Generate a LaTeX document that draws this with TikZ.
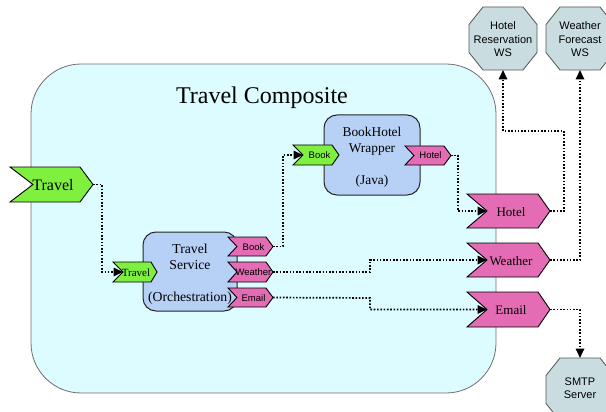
\documentclass[tikz,border=0pt]{standalone}
\usepackage{fontspec}
\setmainfont{Liberation Serif}
\setsansfont{Liberation Sans}
\usetikzlibrary{arrows.meta}

\definecolor{compfill}{HTML}{DCFCFF}
\definecolor{compline}{HTML}{6E6E6E}
\definecolor{boxfill}{HTML}{B6D0F6}
\definecolor{chevgreen}{HTML}{80F040}
\definecolor{chevpink}{HTML}{E46CB4}
\definecolor{octfill}{HTML}{C9DDE1}
\definecolor{octline}{HTML}{555555}

% chevron: name, left, right, top, bottom, notch depth, tip depth, style
\newcommand\chev[8]{%
  \draw[#8] (#2,#4) -- ({#3-#7},#4) -- (#3,{(#4+#5)/2}) -- ({#3-#7},#5)
    -- (#2,#5) -- ({#2+#6},{(#4+#5)/2}) -- cycle;
  \coordinate (#1-in) at ({#2+#6},{(#4+#5)/2});
  \coordinate (#1-out) at (#3,{(#4+#5)/2});
}
% octagon around a centre: name, x, y
\newcommand\octo[3]{%
  \draw[octo,shift={(#2,#3)}] (-20,-31.5) -- (20,-31.5) -- (34,-14) -- (34,14)
    -- (20,31.5) -- (-20,31.5) -- (-34,14) -- (-34,-14) -- cycle;
  \coordinate (#1-top) at (#2,{#3-31.5});
  \coordinate (#1-bot) at (#2,{#3+31.5});
}

\begin{document}
\begin{tikzpicture}[x=1pt,y=-1pt,
  composite/.style={draw=compline, fill=compfill, line width=0.8pt,
    rounded corners=50pt, inner sep=0pt},
  component/.style={draw=black!85, fill=boxfill, line width=1pt,
    rounded corners=13pt, inner sep=0pt},
  greenchev/.style={draw=black, fill=chevgreen, line width=0.9pt},
  pinkchev/.style={draw=black, fill=chevpink, line width=0.9pt},
  octo/.style={draw=octline, fill=octfill, line width=0.8pt},
  bigtxt/.style={font=\fontsize{16}{18}\selectfont, anchor=base, inner sep=0pt},
  midtxt/.style={font=\fontsize{13}{15}\selectfont, anchor=base, inner sep=0pt},
  smalltxt/.style={font=\sffamily\fontsize{9.5}{11}\selectfont, anchor=base, inner sep=0pt},
  boxtxt/.style={font=\fontsize{13.7}{16}\selectfont, align=center, anchor=base, inner sep=0pt},
  wstxt/.style={font=\sffamily\fontsize{11}{13.5}\selectfont, align=center, inner sep=0pt},
  conn/.style={line width=1.7pt, dash pattern=on 1.6pt off 1.7pt,
    -{Triangle[length=9.5pt,width=8.5pt]}}]
\useasboundingbox (0,0) rectangle (606,412);

% composite
\node[composite, minimum width=465pt, minimum height=329pt] (composite) at (263.5,228.5) {};
\node[font=\fontsize{24}{28}\selectfont, anchor=base, inner sep=0pt] (comptitle) at (262,103) {Travel Composite};

% components
\node[component, minimum width=94pt, minimum height=79pt] (service) at (190,271.5) {};
\node[component, minimum width=96pt, minimum height=80pt] (wrapper) at (372,155) {};
\node[boxtxt] (servicetxt) at (190,269) {Travel\\Service};
\node[boxtxt] (servicekind) at (190,301) {(Orchestration)};
\node[boxtxt, font=\fontsize{13.4}{16}\selectfont] (wrappertxt) at (372,153) {BookHotel\\Wrapper};
\node[boxtxt, font=\fontsize{13.4}{16}\selectfont] (wrapperkind) at (372,185) {(Java)};

% composite service and references
\chev{ctravel}{10}{93}{167}{202}{23}{13}{greenchev}
\node[bigtxt] (ctraveltxt) at (53,190.5) {Travel};
\chev{rhotel}{467}{550}{194}{228}{20}{12}{pinkchev}
\node[midtxt] (rhoteltxt) at (511,216) {Hotel};
\chev{rweather}{467}{550}{243}{277}{20}{12}{pinkchev}
\node[midtxt] (rweathertxt) at (511,265) {Weather};
\chev{remail}{467}{550}{292}{327}{20}{12}{pinkchev}
\node[midtxt] (remailtxt) at (511,314) {Email};

% component services and references
\chev{stravel}{113}{157}{262}{282}{10}{6}{greenchev}
\node[midtxt, font=\fontsize{11}{13}\selectfont] (straveltxt) at (136,276) {Travel};
\chev{sbook}{228}{273}{237}{256}{9}{7}{pinkchev}
\node[smalltxt] (sbooktxt) at (253.5,250) {Book};
\chev{sweather}{228}{273}{262}{282}{9}{7}{pinkchev}
\node[smalltxt] (sweathertxt) at (253.5,275.5) {Weather};
\chev{semail}{228}{273}{288}{307}{9}{7}{pinkchev}
\node[smalltxt] (semailtxt) at (253.5,301) {Email};
\chev{wbook}{293}{339}{145}{165}{10}{7}{greenchev}
\node[smalltxt] (wbooktxt) at (319.5,158.5) {Book};
\chev{whotel}{405}{451}{146}{165}{9}{7}{pinkchev}
\node[smalltxt] (whoteltxt) at (430.5,159) {Hotel};

% external web services
\octo{hws}{503}{38.5}
\node[wstxt] (hwstxt) at (503,39.5) {Hotel\\Reservation\\WS};
\octo{wws}{580}{38.5}
\node[wstxt] (wwstxt) at (580,39.5) {Weather\\Forecast\\WS};
\octo{smtp}{580}{389.5}
\node[wstxt] (smtptxt) at (580,388) {SMTP\\Server};

% wires
\draw[conn] (ctravel-out) -| (102,272) -- (stravel-in);
\draw[conn] (sbook-out) -| (283,155) -- (wbook-in);
\draw[conn] (whotel-out) -| (458,211) -- (rhotel-in);
\draw[conn] (sweather-out) -- (370,272) |- (rweather-in);
\draw[conn] (semail-out) -- (370,298) |- (remail-in);

\draw[conn] (rhotel-out) -| (564,131) -| (hws-bot);
\draw[conn] (rweather-out) -| (wws-bot);
\draw[conn] (remail-out) -| (smtp-top);
\end{tikzpicture}
\end{document}
